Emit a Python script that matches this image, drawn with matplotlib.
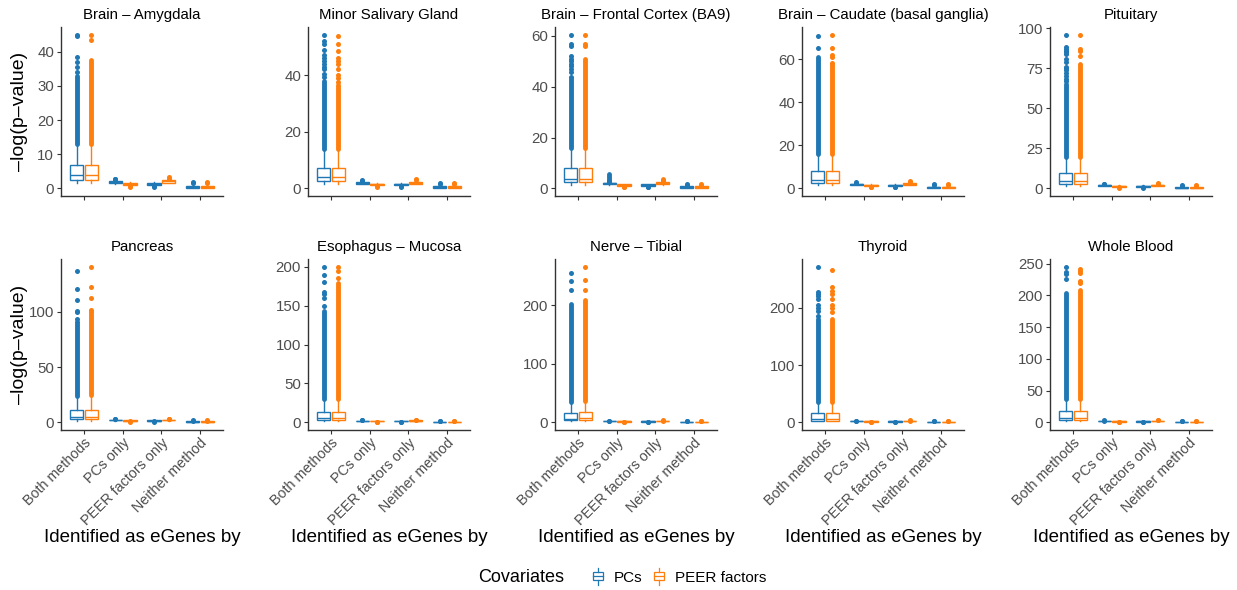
import numpy as np
import matplotlib
matplotlib.use("Agg")
import matplotlib.pyplot as plt
from matplotlib.legend_handler import HandlerBase
from matplotlib.patches import Rectangle
from matplotlib.lines import Line2D

plt.rcParams['font.family'] = ['Liberation Sans', 'DejaVu Sans']

tissues = ["Brain – Amygdala", "Minor Salivary Gland", "Brain – Frontal Cortex (BA9)",
           "Brain – Caudate (basal ganglia)", "Pituitary", "Pancreas", "Esophagus – Mucosa",
           "Nerve – Tibial", "Thyroid", "Whole Blood"]
categories = ["Both methods", "PCs only", "PEER factors only", "Neither method"]
series = ["PCs", "PEER factors"]
colors = ["#1f77b4", "#ff7f0e"]

yticks = [[0, 10, 20, 30, 40], [0, 20, 40], [0, 20, 40, 60], [0, 20, 40, 60],
          [0, 25, 50, 75, 100], [0, 50, 100], [0, 50, 100, 150, 200], [0, 100, 200],
          [0, 100, 200], [0, 50, 100, 150, 200, 250]]

# "Both methods" boxes: [PCs, PEER factors] for each tissue
both_lo = [[1.5, 1.5]] * 10
both_q1 = [[2.5, 2.5], [2.5, 2.5], [2.3, 2.3], [2.3, 2.3], [2.5, 2.5],
           [2.5, 2.7], [2.5, 2.5], [3, 3], [3, 3], [3, 3]]
both_med = [[3.9, 3.8], [3.9, 3.9], [3.8, 3.8], [3.9, 3.9], [4.6, 4.5],
            [4.8, 5.0], [5.5, 5.5], [6, 6.5], [6.5, 6.5], [6.7, 6.5]]
both_q3 = [[6.9, 6.9], [7.1, 7.3], [8.0, 8.1], [7.9, 8.0], [9.6, 9.6],
           [10.8, 11.5], [13.4, 13.5], [16.2, 17], [16.5, 17], [17, 17]]
both_hi = [[13, 13], [13.9, 14], [16, 16], [16.1, 16], [19.6, 19.5],
           [23.8, 24.5], [29.5, 29.5], [35, 37], [35, 36], [36, 36]]
# top of the solid run of outliers
both_dense = [[33, 37.6], [38, 36.4], [43, 51], [61, 58], [65, 77.5],
              [89, 98], [143, 179], [203, 209], [180, 180], [203, 208]]
# separate outliers above the solid run
both_out = [
    [[34, 35.5, 37, 38.5, 44.5, 45], [43.5, 45]],
    [[39.5, 40.5, 42, 43, 44, 45, 46, 47, 49, 51, 52, 54.3],
     [37.5, 39, 40, 42, 44, 45, 46, 48.5, 51, 54]],
    [[44, 46, 47, 48, 49, 50, 51, 52, 56, 57, 60.5], [56, 57, 60.5]],
    [[65.5, 71], [58.5, 61, 62, 65.5, 71.5]],
    [[67, 68, 70, 72, 74, 75, 76, 79, 81, 84, 85, 86, 87, 88, 95.8], [82.5, 86, 87, 96]],
    [[91, 94, 100, 101, 111, 121, 137], [100, 102, 113, 123, 141]],
    [[150, 160, 165, 168, 180, 190, 200], [185, 195, 200]],
    [[226, 241, 256], [226, 244, 266]],
    [[186, 195, 200, 205, 215, 220, 225, 228, 272], [192, 200, 205, 215, 225, 230, 236, 267]],
    [[225, 233, 236, 245], [220, 222, 235, 238, 242]],
]

# other three groups: order PCs only (PC, PEER), PEER only (PC, PEER), Neither (PC, PEER)
small_lo = [1.4, 0.9, 0.9, 1.5, 0.0, 0.0]
small_q1 = [1.6, 1.1, 1.1, 1.7, 0.2, 0.2]
small_med = [1.9, 1.4, 1.4, 2.0, 0.4, 0.4]
small_q3 = [2.2, 1.7, 1.7, 2.3, 0.8, 0.8]
small_hi = [2.4, 1.8, 1.8, 2.5, 1.2, 1.2]
small_out = [[2.6, 2.8], [0.5, 0.7], [0.5, 0.7], [2.8, 3.2], [1.5, 1.8], [1.5, 1.8]]
small_dense = {"Brain – Frontal Cortex (BA9)": [5.8, None, None, 3.8, None, None]}


class BoxHandler(HandlerBase):
    def create_artists(self, legend, orig_handle, xd, yd, width, height, fontsize, trans):
        c = orig_handle.get_color()
        x0, y0 = -xd, -yd
        cx = x0 + width / 2
        rect = Rectangle((x0 + width * 0.2, y0 + height * 0.2), width * 0.6, height * 0.6,
                         fc="white", ec=c, lw=0.9, transform=trans)
        med = Line2D([x0 + width * 0.2, x0 + width * 0.8], [y0 + height / 2] * 2,
                     color=c, lw=0.9, transform=trans)
        w1 = Line2D([cx, cx], [y0 - height * 0.1, y0 + height * 0.2], color=c, lw=0.9, transform=trans)
        w2 = Line2D([cx, cx], [y0 + height * 0.8, y0 + height * 1.1], color=c, lw=0.9, transform=trans)
        return [rect, med, w1, w2]


fig = plt.figure(figsize=(12.37, 5.90), dpi=100)
lefts = [61, 308, 555, 802, 1050]
W, H = 1237, 590
row_top = [27, 259]
row_bot = [196, 430]
pw = 162

for i, t in enumerate(tissues):
    r, c = divmod(i, 5)
    ph = row_bot[r] - row_top[r]
    ax = fig.add_axes([lefts[c] / W, 1 - row_bot[r] / H, pw / W, ph / H])
    allvals = [0.0]
    for k in range(2):
        col = colors[k]
        stats = [dict(whislo=both_lo[i][k], q1=both_q1[i][k], med=both_med[i][k],
                      q3=both_q3[i][k], whishi=both_hi[i][k], fliers=[])]
        pos = [1 + (k - 0.5) * 0.375]
        for j in range(3):
            m = 2 * j + k
            stats.append(dict(whislo=small_lo[m], q1=small_q1[m], med=small_med[m],
                              q3=small_q3[m], whishi=small_hi[m], fliers=[]))
            pos.append(2 + j + (k - 0.5) * 0.375)
        ax.bxp(stats, positions=pos, widths=0.34, patch_artist=True, showcaps=False,
               showfliers=False,
               boxprops=dict(facecolor="white", edgecolor=col, lw=1.0),
               whiskerprops=dict(color=col, lw=1.0),
               medianprops=dict(color=col, lw=1.0), zorder=2)
        # outliers
        ax.plot([pos[0], pos[0]], [both_hi[i][k], both_dense[i][k]], color=col, lw=3.5,
                solid_capstyle="round", zorder=1)
        ax.plot(np.full(len(both_out[i][k]), pos[0]), both_out[i][k], "o", ms=3.6,
                color=col, mec="none", zorder=1)
        allvals += both_out[i][k]
        for j in range(3):
            m = 2 * j + k
            ax.plot(np.full(len(small_out[m]), pos[j + 1]), small_out[m], "o", ms=3.6,
                    color=col, mec="none", zorder=1)
            sd = small_dense.get(t)
            if sd is not None and sd[m] is not None:
                ax.plot([pos[j + 1], pos[j + 1]], [small_hi[m], sd[m]], color=col, lw=3.5,
                        solid_capstyle="round", zorder=1)
    lo, hi = min(allvals), max(allvals)
    pad = (hi - lo) * 0.05
    ax.set_ylim(lo - pad, hi + pad)
    ax.set_xlim(0.4, 4.6)
    ax.set_yticks(yticks[i])
    ax.set_xticks([1, 2, 3, 4])
    if r == 1:
        ax.set_xticklabels(categories, rotation=45, ha="right", rotation_mode="anchor")
        ax.set_xlabel("Identified as eGenes by", fontsize=13.5)
        ax.xaxis.set_label_coords(0.5, (row_bot[r] - 537) / ph, transform=ax.transAxes)
        ax.xaxis.label.set_va("center")
    else:
        ax.set_xticklabels([])
    if c == 0:
        ax.set_ylabel("–log(p–value)", fontsize=14)
        ax.yaxis.set_label_coords((20 - lefts[c]) / pw, 0.5, transform=ax.transAxes)
        ax.yaxis.label.set_va("center")
    ax.set_title(t, fontsize=10.8, pad=6)
    for s in ["top", "right"]:
        ax.spines[s].set_visible(False)
    for s in ["left", "bottom"]:
        ax.spines[s].set_color("#333333")
        ax.spines[s].set_linewidth(1.0)
    ax.tick_params(length=3, color="#333333", labelcolor="#4d4d4d")
    ax.tick_params(axis="y", pad=2, labelsize=10.8)
    ax.tick_params(axis="x", pad=1, labelsize=10.3)

fig.text(478 / W, 1 - 577 / H, "Covariates", fontsize=13, va="center", ha="left")
handles = [Line2D([], [], color=colors[0]), Line2D([], [], color=colors[1])]
fig.legend(handles, series, loc="center left", bbox_to_anchor=(576 / W, 1 - 577 / H),
           ncol=2, frameon=False, handlelength=1.1, handleheight=1.0, handletextpad=0.5,
           columnspacing=0.5, fontsize=11, handler_map={Line2D: BoxHandler()})

fig.savefig("out.png", dpi=100)
